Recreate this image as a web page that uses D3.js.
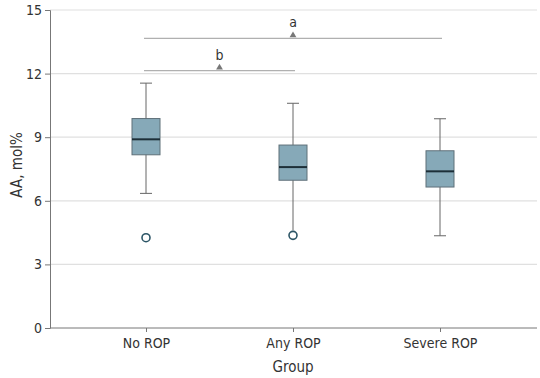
<!DOCTYPE html>
<html>
<head>
<meta charset="utf-8">
<script src="https://cdn.jsdelivr.net/npm/d3@7"></script>
<style>
  body { margin: 0; background: #fff; }
  text { font-family: "DejaVu Sans Condensed", "DejaVu Sans", sans-serif; font-stretch: condensed; fill: #333; }
</style>
</head>
<body>
<div id="chart"></div>
<script>
/* DATA */
var groups = ["No ROP", "Any ROP", "Severe ROP"];
var whiskerHigh = [11.55, 10.6, 9.87];
var q3 = [9.88, 8.63, 8.36];
var medians = [8.9, 7.59, 7.39];
var q1 = [8.17, 6.97, 6.65];
var whiskerLow = [6.35, 4.6, 4.35];
var outliers = [4.26, 4.37, null];
var yTicks = [0, 3, 6, 9, 12, 15];

// significance brackets: from group, to group, level, letter
var sigFrom = ["No ROP", "No ROP"];
var sigTo = ["Severe ROP", "Any ROP"];
var sigLevel = [13.66, 12.14];
var sigLabel = ["a", "b"];

/* LAYOUT */
var margin = {top: 10, right: 3, bottom: 50, left: 50},
  width = 540 - margin.left - margin.right,
  height = 378 - margin.top - margin.bottom;

var svg = d3.select("#chart").append("svg")
  .attr("width", 540)
  .attr("height", 378)
  .append("g")
  .attr("transform", "translate(" + margin.left + "," + margin.top + ")");

var x = d3.scalePoint()
  .domain(groups)
  .range([96, 390]);

var y = d3.scaleLinear()
  .domain([0, 15])
  .range([height, 0]);

// gridlines
svg.selectAll(".grid")
  .data(yTicks.slice(1))
  .enter().append("line")
  .attr("x1", 0)
  .attr("x2", width)
  .attr("y1", d => y(d))
  .attr("y2", d => y(d))
  .attr("stroke", "#e0e0e0")
  .attr("stroke-width", 1.2);

// y axis
var yAxis = svg.append("g")
  .call(d3.axisLeft(y).tickValues(yTicks).tickSize(5).tickPadding(3));
yAxis.select(".domain").attr("stroke", "#777");
yAxis.selectAll(".tick line").attr("stroke", "#777");
yAxis.selectAll("text").style("font-size", "14px").attr("fill", "#333");

// x axis
var xAxis = svg.append("g")
  .attr("transform", "translate(0," + height + ")")
  .call(d3.axisBottom(x).tickSize(4).tickPadding(6).tickSizeOuter(0));
xAxis.select(".domain").attr("stroke", "#777").attr("d", "M0.5,0H" + width);
xAxis.selectAll(".tick line").attr("stroke", "#777");
xAxis.selectAll("text").style("font-size", "14px").attr("fill", "#333");

// axis labels
svg.append("text")
  .attr("transform", "rotate(-90)")
  .attr("x", -(height / 2) + 4)
  .attr("y", -margin.left + 22)
  .style("text-anchor", "middle")
  .style("font-size", "15px")
  .text("AA, mol%");

svg.append("text")
  .attr("x", x("Any ROP"))
  .attr("y", height + 44)
  .style("text-anchor", "middle")
  .style("font-size", "15px")
  .text("Group");

/* BOXES */
var boxW = 28, capW = 12;
var boxes = groups.map(function(g, i) {
  return {g: g, hi: whiskerHigh[i], q3: q3[i], med: medians[i], q1: q1[i], lo: whiskerLow[i], out: outliers[i]};
});

var bx = svg.selectAll(".box")
  .data(boxes)
  .enter().append("g")
  .attr("class", "box");

// whiskers
bx.append("line")
  .attr("x1", d => x(d.g)).attr("x2", d => x(d.g))
  .attr("y1", d => y(d.hi)).attr("y2", d => y(d.lo))
  .attr("stroke", "#666").attr("stroke-width", 1);

bx.append("line")
  .attr("x1", d => x(d.g) - capW / 2).attr("x2", d => x(d.g) + capW / 2)
  .attr("y1", d => y(d.hi)).attr("y2", d => y(d.hi))
  .attr("stroke", "#666");

// lower cap, skipped where the whisker runs into the outlier
bx.filter(d => d.out == null || d.lo - d.out > 0.5)
  .append("line")
  .attr("x1", d => x(d.g) - capW / 2).attr("x2", d => x(d.g) + capW / 2)
  .attr("y1", d => y(d.lo)).attr("y2", d => y(d.lo))
  .attr("stroke", "#666");

bx.append("rect")
  .attr("x", d => x(d.g) - boxW / 2)
  .attr("width", boxW)
  .attr("y", d => y(d.q3))
  .attr("height", d => y(d.q1) - y(d.q3))
  .attr("fill", "#86a9b8")
  .attr("stroke", "#5f7079")
  .attr("stroke-width", 1);

bx.append("line")
  .attr("x1", d => x(d.g) - boxW / 2).attr("x2", d => x(d.g) + boxW / 2)
  .attr("y1", d => y(d.med)).attr("y2", d => y(d.med))
  .attr("stroke", "#1d2f38").attr("stroke-width", 2);

bx.filter(d => d.out != null)
  .append("circle")
  .attr("cx", d => x(d.g))
  .attr("cy", d => y(d.out))
  .attr("r", 4)
  .attr("fill", "#fff")
  .attr("stroke", "#2c5566")
  .attr("stroke-width", 1.6);

/* SIGNIFICANCE */
var sig = sigLabel.map(function(l, i) {
  return {from: sigFrom[i], to: sigTo[i], level: sigLevel[i], label: l};
});

var sg = svg.selectAll(".sig")
  .data(sig)
  .enter().append("g");

sg.append("line")
  .attr("x1", d => x(d.from) - 2).attr("x2", d => x(d.to) + 2)
  .attr("y1", d => y(d.level)).attr("y2", d => y(d.level))
  .attr("stroke", "#b0b0b0").attr("stroke-width", 1.2);

sg.append("path")
  .attr("transform", d => "translate(" + (x(d.from) + x(d.to)) / 2 + "," + (y(d.level) - 3) + ")")
  .attr("d", d3.symbol(d3.symbolTriangle, 20))
  .attr("fill", "#777");

sg.append("text")
  .attr("x", d => (x(d.from) + x(d.to)) / 2)
  .attr("y", d => y(d.level) - 11)
  .style("text-anchor", "middle")
  .style("font-size", "14px")
  .text(d => d.label);
</script>
</body>
</html>
